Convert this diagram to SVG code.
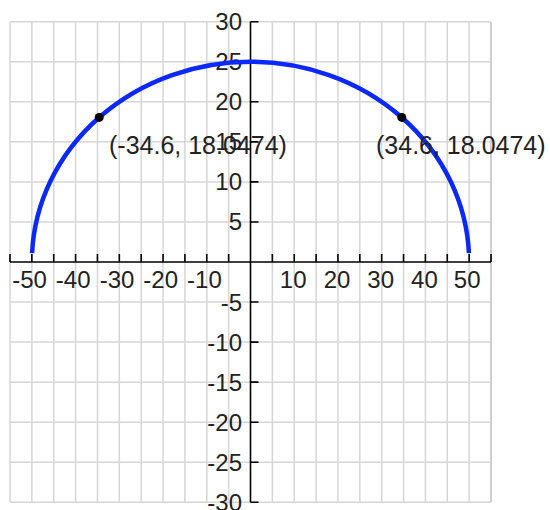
<svg xmlns="http://www.w3.org/2000/svg" width="550" height="510" viewBox="0 0 550 510">
<style>
.grid line{stroke:#d6d6d6;stroke-width:1.5}
.axis{stroke:#000;stroke-width:1.6;fill:none}
.lbl{font-family:"Liberation Sans",Arial,sans-serif;font-size:24px;fill:#222}
.yl{text-anchor:end}
.xl{text-anchor:middle}
.pt{font-family:"Liberation Sans",Arial,sans-serif;font-size:25px;fill:#222}
</style>
<rect width="550" height="510" fill="#fff"/>
<g id="grid" class="grid">
<line x1="10" y1="21.7" x2="10" y2="502.3"/>
<line x1="31.86" y1="21.7" x2="31.86" y2="502.3"/>
<line x1="53.73" y1="21.7" x2="53.73" y2="502.3"/>
<line x1="75.59" y1="21.7" x2="75.59" y2="502.3"/>
<line x1="97.45" y1="21.7" x2="97.45" y2="502.3"/>
<line x1="119.32" y1="21.7" x2="119.32" y2="502.3"/>
<line x1="141.18" y1="21.7" x2="141.18" y2="502.3"/>
<line x1="163.05" y1="21.7" x2="163.05" y2="502.3"/>
<line x1="184.91" y1="21.7" x2="184.91" y2="502.3"/>
<line x1="206.77" y1="21.7" x2="206.77" y2="502.3"/>
<line x1="228.64" y1="21.7" x2="228.64" y2="502.3"/>
<line x1="272.36" y1="21.7" x2="272.36" y2="502.3"/>
<line x1="294.23" y1="21.7" x2="294.23" y2="502.3"/>
<line x1="316.09" y1="21.7" x2="316.09" y2="502.3"/>
<line x1="337.95" y1="21.7" x2="337.95" y2="502.3"/>
<line x1="359.82" y1="21.7" x2="359.82" y2="502.3"/>
<line x1="381.68" y1="21.7" x2="381.68" y2="502.3"/>
<line x1="403.55" y1="21.7" x2="403.55" y2="502.3"/>
<line x1="425.41" y1="21.7" x2="425.41" y2="502.3"/>
<line x1="447.27" y1="21.7" x2="447.27" y2="502.3"/>
<line x1="469.14" y1="21.7" x2="469.14" y2="502.3"/>
<line x1="491" y1="21.7" x2="491" y2="502.3" style="stroke:#cfcfcf;stroke-width:2"/>
<line x1="10" y1="21.7" x2="491" y2="21.7"/>
<line x1="10" y1="61.75" x2="491" y2="61.75"/>
<line x1="10" y1="101.8" x2="491" y2="101.8"/>
<line x1="10" y1="141.85" x2="491" y2="141.85"/>
<line x1="10" y1="181.9" x2="491" y2="181.9"/>
<line x1="10" y1="221.95" x2="491" y2="221.95"/>
<line x1="10" y1="302.05" x2="491" y2="302.05"/>
<line x1="10" y1="342.1" x2="491" y2="342.1"/>
<line x1="10" y1="382.15" x2="491" y2="382.15"/>
<line x1="10" y1="422.2" x2="491" y2="422.2"/>
<line x1="10" y1="462.25" x2="491" y2="462.25"/>
<line x1="10" y1="502.3" x2="491" y2="502.3"/>
</g>
<g id="axes">
<path class="axis" d="M10,262H491M10,254V262M31.86,254V262M53.73,254V262M75.59,254V262M97.45,254V262M119.32,254V262M141.18,254V262M163.05,254V262M184.91,254V262M206.77,254V262M228.64,254V262M272.36,254V262M294.23,254V262M316.09,254V262M337.95,254V262M359.82,254V262M381.68,254V262M403.55,254V262M425.41,254V262M447.27,254V262M469.14,254V262M491,254V262"/>
<path class="axis" d="M250.5,21.7V502.3M250.5,21.7H258.5M250.5,61.75H258.5M250.5,101.8H258.5M250.5,141.85H258.5M250.5,181.9H258.5M250.5,221.95H258.5M250.5,302.05H258.5M250.5,342.1H258.5M250.5,382.15H258.5M250.5,422.2H258.5M250.5,462.25H258.5M250.5,502.3H258.5"/>
</g>
<g id="y-labels" class="lbl yl">
<text x="242" y="30.2">30</text>
<text x="242" y="70.2">25</text>
<text x="242" y="110.3">20</text>
<text x="242" y="150.3">15</text>
<text x="242" y="190.4">10</text>
<text x="242" y="230.4">5</text>
<text x="242" y="310.5">-5</text>
<text x="242" y="350.6">-10</text>
<text x="242" y="390.6">-15</text>
<text x="242" y="430.7">-20</text>
<text x="242" y="470.7">-25</text>
<text x="242" y="510.8">-30</text>
</g>
<g id="x-labels" class="lbl xl">
<text x="29.5" y="288">-50</text>
<text x="73.2" y="288">-40</text>
<text x="117" y="288">-30</text>
<text x="160.7" y="288">-20</text>
<text x="204.4" y="288">-10</text>
<text x="293.2" y="288">10</text>
<text x="337" y="288">20</text>
<text x="380.7" y="288">30</text>
<text x="424.4" y="288">40</text>
<text x="467.2" y="288">50</text>
</g>
<g id="curve">
<path d="M32.08,253.04A218.64,200.25 0 0 1 468.92,253.04" fill="none" stroke="#0a28ff" stroke-width="4.5"/>
</g>
<g id="point-left">
<circle cx="99.2" cy="117.44" r="4.5" fill="#000"/>
<text class="pt" x="109" y="154">(-34.6, 18.0474)</text>
</g>
<g id="point-right">
<circle cx="401.8" cy="117.44" r="4.5" fill="#000"/>
<text class="pt" x="376" y="154">(34.6, 18.0474)</text>
</g>
</svg>
